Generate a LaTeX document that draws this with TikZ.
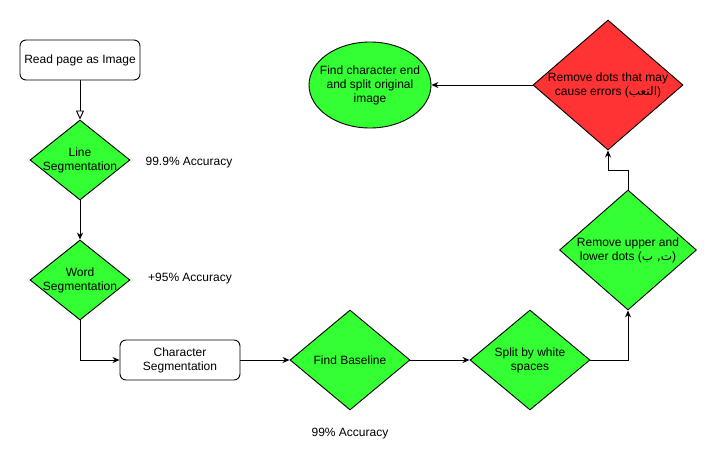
\documentclass[tikz,border=0pt]{standalone}
\usepackage{fontspec}
\setmainfont{Liberation Sans}
\newfontfamily\arabicfont[Script=Arabic]{DejaVu Sans}
\TeXXeTstate=1
\usetikzlibrary{positioning,arrows.meta,shapes.geometric}
\definecolor{stepgreen}{HTML}{33FF33}
\definecolor{stepred}{HTML}{FF3333}

\begin{document}
\begin{tikzpicture}[x=1pt,y=-1pt,line width=0.9pt,
	>={Stealth[length=7pt,width=6pt]},
	every node/.style={font=\fontsize{12}{14}\selectfont},
	every label/.style={align=center,inner sep=0pt},
	proc/.style={draw,rectangle,rounded corners=6pt,align=center,
		minimum width=120pt,minimum height=40pt,inner sep=0pt},
	choice/.style={draw,diamond,fill=stepgreen,inner sep=0pt}]
	\useasboundingbox (0,0) rectangle (717,471);

	\node[proc] (read) at (80,60) {Read page as Image};
	\node[choice,minimum width=100pt,minimum height=80pt,
		  label={center:Line\\Segmentation}]
		  (line) at (80,160) {};
	\node[choice,minimum width=100pt,minimum height=80pt,
		  label={center:Word\\Segmentation}]
		  (word) at (80,280) {};
	\node[proc] (charseg) at (180,360) {Character\\Segmentation};
	\node[choice,minimum width=120pt,minimum height=100pt,
		  label={center:Find Baseline}]
		  (base) at (350,360) {};
	\node[choice,minimum width=120pt,minimum height=100pt,
		  label={center:Split by white\\spaces}]
		  (split) at (530,360) {};
	\node[choice,minimum width=137pt,minimum height=120pt,
		  label={center:Remove upper and\\lower dots ({\arabicfont\beginR ت, ب\endR})}]
		  (upper) at (628,250) {};
	\node[choice,fill=stepred,minimum width=150pt,minimum height=130pt,
		  label={center:Remove dots that may\\cause errors ({\arabicfont\beginR التعب\endR})}]
		  (dots) at (608,85) {};
	\node[draw,ellipse,fill=stepgreen,inner sep=0pt,
		  minimum width=122pt,minimum height=86pt,
		  label={center:Find character end\\and split original\\image}]
		  (find) at (370,85) {};

	\node (acc1) at (189,163) {99.9\% Accuracy};
	\node (acc2) at (190,279) {+95\% Accuracy};
	\node (acc3) at (350,434) {99\% Accuracy};
	\coordinate (bend) at (628,170);

	\draw[-{Triangle[open,length=9pt,width=8pt]}] (read) -- (line);
	\draw[->] (line) -- (word);
	\draw[->] (word.south) |- (charseg.west);
	\draw[->] (charseg) -- (base);
	\draw[->] (base) -- (split);
	\draw[->] (split.east) -| (upper.south);
	\draw[->] (upper.north) -- (bend) -| (dots.south);
	\draw[->] (dots) -- (find);
\end{tikzpicture}
\end{document}
